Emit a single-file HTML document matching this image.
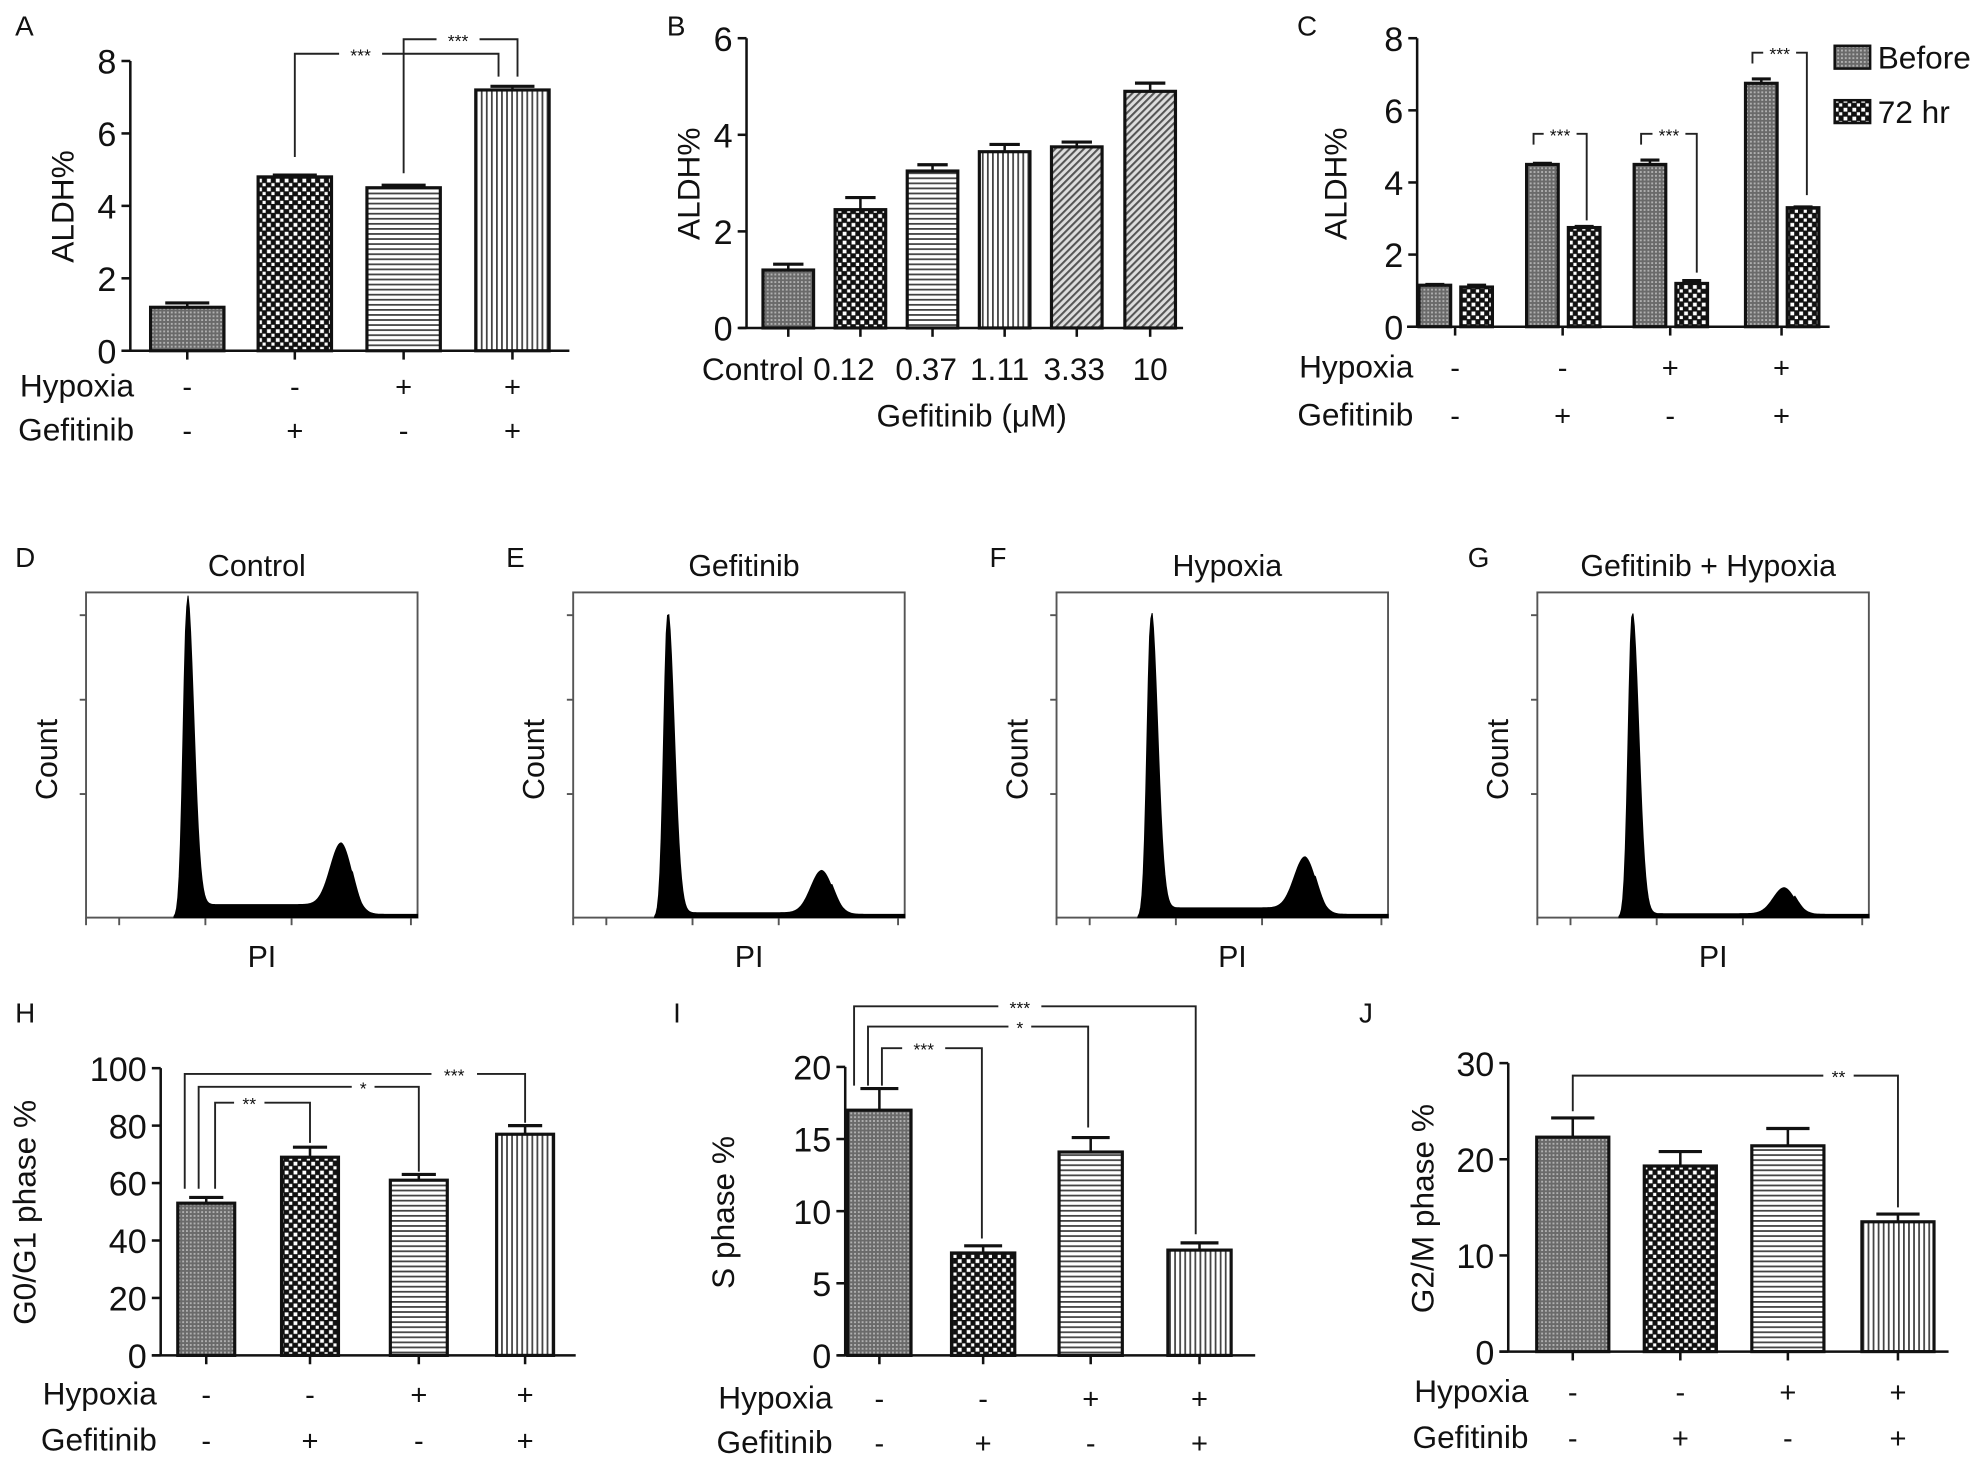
<!DOCTYPE html>
<html><head><meta charset="utf-8"><style>
html,body{margin:0;padding:0;background:#fff}
svg{display:block}
text{font-family:"Liberation Sans",Arial,sans-serif;fill:#111}
</style></head><body>
<svg id="fig" width="1984" height="1467" viewBox="0 0 1568 1159" xmlns="http://www.w3.org/2000/svg">
<defs>
<pattern id="p-gray" width="3" height="3" patternUnits="userSpaceOnUse"><rect width="3" height="3" fill="#6a6a6a"/><rect width="1.5" height="1.5" fill="#b0b0b0"/></pattern>
<pattern id="p-check" width="7" height="7" patternUnits="userSpaceOnUse"><rect width="7" height="7" fill="#111"/><rect x="1" y="1" width="3" height="3" fill="#fff"/><rect x="4.5" y="4.5" width="2.5" height="2.5" fill="#fff"/></pattern>
<pattern id="p-h" width="4" height="4" patternUnits="userSpaceOnUse"><rect width="4" height="4" fill="#fff"/><rect width="4" height="1.4" fill="#444"/></pattern>
<pattern id="p-v" width="4" height="4" patternUnits="userSpaceOnUse"><rect width="4" height="4" fill="#fff"/><rect width="1.4" height="4" fill="#444"/></pattern>
<pattern id="p-d" width="4" height="4" patternUnits="userSpaceOnUse" patternTransform="rotate(45)"><rect width="4" height="4" fill="#ddd"/><rect width="1.6" height="4" fill="#555"/></pattern>
</defs>
<g id="root"></g>
</svg>
<script>
// ---- data ----
const aCats = ["1","2","3","4"];
const aVals = [1.2, 4.8, 4.5, 7.2];
const aErr = [0.12, 0.05, 0.07, 0.1];
const aTicks = [0,2,4,6,8];
const hypoxiaRow = ["-","-","+","+"];
const gefitinibRow = ["-","+","-","+"];

const bCats = ["Control","0.12","0.37","1.11","3.33","10"];
const bVals = [1.2, 2.45, 3.25, 3.65, 3.75, 4.9];
const bErr = [0.12, 0.25, 0.13, 0.15, 0.1, 0.17];
const bTicks = [0,2,4,6];

const cBefore = [1.15, 4.5, 4.5, 6.75];
const cBeforeErr = [0.02, 0.03, 0.12, 0.12];
const c72 = [1.1, 2.75, 1.2, 3.3];
const c72Err = [0.05, 0.03, 0.08, 0.02];
const cTicks = [0,2,4,6,8];

const hVals = [53, 69, 61, 77];
const hErr = [2, 3.5, 2, 3];
const hTicks = [0,20,40,60,80,100];

const iVals = [17, 7.1, 14.1, 7.3];
const iErr = [1.5, 0.5, 1.0, 0.5];
const iTicks = [0,5,10,15,20];

const jVals = [22.3, 19.3, 21.4, 13.5];
const jErr = [2.0, 1.5, 1.8, 0.8];
const jTicks = [0,10,20,30];

// histogram shape params: [G1 peak pos, G1 height, G2 peak pos, G2 height, S baseline]
const histTitles = ["Control","Gefitinib","Hypoxia","Gefitinib + Hypoxia"];
const histG1Pos = [0.305, 0.285, 0.285, 0.286];
const histG1Height = [0.96, 0.93, 0.92, 0.93];
const histG2Pos = [0.77, 0.75, 0.75, 0.745];
const histG2Height = [0.19, 0.13, 0.157, 0.08];
const histBaseline = [0.04, 0.015, 0.03, 0.012];

const NS="http://www.w3.org/2000/svg";
const root=document.getElementById('root');
function el(tag, attrs, parent){const e=document.createElementNS(NS,tag);for(const k in attrs)e.setAttribute(k,attrs[k]);(parent||root).appendChild(e);return e;}
function txt(x,y,s,size,anchor,parent,rot){const t=el('text',{x:x,y:y,'font-size':size,'text-anchor':anchor||'middle'},parent);if(rot)t.setAttribute('transform','rotate(-90 '+x+' '+y+')');t.textContent=s;return t;}

function letter(s,x,y){const t=txt(x,y,s,22,'start');

}

function barChart(o){
  const g=el('g',{});
  
  
  const y=v=>o.y0-(v/o.max)*(o.y0-o.yTop);
  (o.brackets||[]).forEach(b=>{
    const yl=y(b.y), xl=b.x1, xr=b.x2;
    const p=el('path',{d:`M${xl} ${y(b.l)} V${yl} H${xr} V${y(b.r)}`,fill:'none',stroke:'#222','stroke-width':1.5},g);
    
    
    const sx=b.sx||(xl+xr)/2;
    el('rect',{x:sx-b.gap/2,y:yl-3,width:b.gap,height:6,fill:'#fff'},g);
    const t=txt(sx,yl+6,b.s,14,'middle',g);t.setAttribute('fill','#555');
    
    
  });
  const ax=el('line',{x1:o.ax,y1:o.y0,x2:o.ax,y2:o.yTop,stroke:'#111','stroke-width':2},g);
  
  
  o.ticks.forEach(t=>{
    el('line',{x1:o.ax-7,x2:o.ax,y1:y(t),y2:y(t),stroke:'#111','stroke-width':2},g);
    const l=txt(o.ax-11,y(t)+10,String(t),27,'end',g);
    
    
  });
  const xa=el('line',{x1:o.xa0,x2:o.xa1,y1:o.y0,y2:o.y0,stroke:'#111','stroke-width':2},g);
  
  
  o.centers.forEach(c=>el('line',{x1:c,x2:c,y1:o.y0,y2:o.y0+7,stroke:'#111','stroke-width':2},g));
  o.series.forEach(s=>{
    s.vals.forEach((v,i)=>{
      const cx=o.centers[i]+(s.off||0);
      const w=o.bw;
      const top=y(v+s.err[i]);
      el('line',{x1:cx,x2:cx,y1:y(v),y2:top,stroke:'#111','stroke-width':2},g);
      el('line',{x1:cx-w*0.3,x2:cx+w*0.3,y1:top,y2:top,stroke:'#111','stroke-width':2.5},g);
      const r=el('rect',{x:cx-w/2,y:y(v),width:w,height:o.y0-y(v),fill:'url(#'+(s.pats?s.pats[i]:s.pat)+')',stroke:'#111','stroke-width':2.5},g);
      
      
    });
  });
  if(o.rows){
    o.rows.forEach((row,ri)=>{
      const ry=o.rowY[ri];
      const lab=txt(o.rowLabelX,ry,row.label,25,'end',g);
      
      
      row.vals.forEach((v,i)=>txt(o.centers[i],ry,v,23,'middle',g));
    });
  }
  if(o.cats){o.cats.forEach((c,i)=>{const t=txt(o.catX[i],o.catY,c,25,'middle',g);
    
    });}
  const yt=txt(o.ytx,o.yty,o.ytitle,25,'middle',g,true);
  
  
  return g;
}
const P4=['p-gray','p-check','p-h','p-v'];

// A
letter('A',12,28);
barChart({name:'panel-a-chart',ax:103,y0:277,yTop:48,max:8,ticks:aTicks,xa0:96,xa1:450,centers:[148,233,319,405],bw:58,
 series:[{vals:aVals,err:aErr,pats:P4,key:'a-'}],
 brackets:[{x1:233,x2:394,y:8.2,l:5.35,r:7.57,s:'***',gap:34,sx:285},{x1:319,x2:409,y:8.6,l:4.9,r:7.57,s:'***',gap:34,sx:362}],
 rows:[{label:'Hypoxia',vals:hypoxiaRow},{label:'Gefitinib',vals:gefitinibRow}],rowY:[313,348],rowLabelX:106,
 ytitle:'ALDH%',ytx:58,yty:163});
// B
letter('B',527,28);
barChart({name:'panel-b-chart',ax:590,y0:259,yTop:30,max:6,ticks:bTicks,xa0:584,xa1:935,centers:[623,680,737,794,851,909],bw:40,
 series:[{vals:bVals,err:bErr,pats:['p-gray','p-check','p-h','p-v','p-d','p-d'],key:'b-'}],
 cats:bCats,catX:[595,667,732,790,849,909],catY:300,ytitle:'ALDH%',ytx:553,yty:145});
txt(768,337,'Gefitinib (\u03bcM)',25);
// C
letter('C',1025,28);
barChart({name:'panel-c-chart',ax:1120,y0:258,yTop:30,max:8,ticks:cTicks,xa0:1112,xa1:1446,centers:[1150,1235,1320,1408],bw:25,
 series:[{vals:cBefore,err:cBeforeErr,pat:'p-gray',off:-16,key:'before-'},{vals:c72,err:c72Err,pat:'p-check',off:17,key:'72hr-'}],
 brackets:[{x1:1212,x2:1254,y:5.35,l:5.05,r:2.95,s:'***',gap:26},{x1:1297,x2:1341,y:5.35,l:5.05,r:1.5,s:'***',gap:26},{x1:1385,x2:1428,y:7.6,l:7.3,r:3.65,s:'***',gap:26}],
 rows:[{label:'Hypoxia',vals:hypoxiaRow},{label:'Gefitinib',vals:gefitinibRow}],rowY:[298,336],rowLabelX:1117,
 ytitle:'ALDH%',ytx:1064,yty:145});
// legend
[['Before','p-gray',45],['72 hr','p-check',88]].forEach(l=>{
 const g=el('g',{});
 
 
 el('rect',{x:1450,y:l[2]-9,width:28,height:18,fill:'url(#'+l[1]+')',stroke:'#111','stroke-width':2},g);
 txt(1484,l[2]+9,l[0],25,'start',g);
});

// histograms
const hx=[68,453,835,1215], letters=['D','E','F','G'], ltx=[12,400,782,1160];
histTitles.forEach((t,k)=>{
 const x0=hx[k],x1=x0+262,y0=725,yT=468;
 letter(letters[k],ltx[k],448);
 const g=el('g',{});
 
 
 txt(x0+135,455,t,24,'middle',g);
 el('rect',{x:x0,y:yT,width:262,height:257,fill:'none',stroke:'#555','stroke-width':1.5},g);
 [0.07,0.33,0.62].forEach(f=>el('line',{x1:x0-5,x2:x0,y1:yT+257*f,y2:yT+257*f,stroke:'#555','stroke-width':1.5},g));
 [0,0.1,0.36,0.62,0.98].forEach(f=>el('line',{x1:x0+262*f,x2:x0+262*f,y1:y0,y2:y0+6,stroke:'#555','stroke-width':1.5},g));
 const p1=histG1Pos[k],h1=histG1Height[k],p2=histG2Pos[k],h2=histG2Height[k],b=histBaseline[k];
 let d=`M${x0+262*(p1-0.04)} ${y0}`;
 for(let i=0;i<=260;i++){
  const f=i/260; if(f<p1-0.04) continue;
  const s1=f<p1?0.012:0.02;
  let v=h1*Math.exp(-Math.pow((f-p1)/s1,2)/2);
  v+=h2*Math.exp(-Math.pow((f-p2)/0.033,2)/2);
  if(f>p1&&f<p2+0.06) v+=b*(f<p2?1:Math.max(0,1-(f-p2)/0.06));
  if(f>p2+0.03) v+=0.01;
  d+=` L${x0+262*f} ${y0-257*Math.min(v,0.99)}`;
 }
 d+=` L${x1} ${y0} Z`;
 const hp=el('path',{d:d,fill:'#000',stroke:'#000','stroke-width':0.8},g);
 
 
 txt(x0-23,600,'Count',24,'middle',g,true);
 txt(x0+139,764,'PI',24,'middle',g);
});

// H
letter('H',12,808);
barChart({name:'panel-h-chart',ax:127,y0:1071,yTop:844,max:100,ticks:hTicks,xa0:120,xa1:455,centers:[163,245,331,415],bw:45,
 series:[{vals:hVals,err:hErr,pats:P4,key:'h-'}],
 brackets:[{x1:146,x2:415,y:98,l:58,r:81,s:'***',gap:36,sx:359},{x1:157,x2:331,y:93.5,l:58,r:64,s:'*',gap:18,sx:287},{x1:170,x2:245,y:88,l:58,r:74,s:'**',gap:24,sx:197}],
 rows:[{label:'Hypoxia',vals:hypoxiaRow},{label:'Gefitinib',vals:gefitinibRow}],rowY:[1110,1146],rowLabelX:124,
 ytitle:'G0/G1 phase %',ytx:28,yty:958});
// I
letter('I',532,808);
barChart({name:'panel-i-chart',ax:668,y0:1071,yTop:843,max:20,ticks:iTicks,xa0:662,xa1:992,centers:[695,777,862,948],bw:50,
 series:[{vals:iVals,err:iErr,pats:P4,key:'i-'}],
 brackets:[{x1:675,x2:945,y:24.2,l:18.7,r:8.4,s:'***',gap:34,sx:806},{x1:686,x2:860,y:22.8,l:18.7,r:15.8,s:'*',gap:18,sx:806},{x1:697,x2:776,y:21.3,l:18.7,r:8.1,s:'***',gap:34,sx:730}],
 rows:[{label:'Hypoxia',vals:hypoxiaRow},{label:'Gefitinib',vals:gefitinibRow}],rowY:[1113,1148],rowLabelX:658,
 ytitle:'S phase %',ytx:580,yty:958});
// J
letter('J',1074,808);
barChart({name:'panel-j-chart',ax:1192,y0:1068,yTop:840,max:30,ticks:jTicks,xa0:1185,xa1:1540,centers:[1243,1328,1413,1500],bw:57,
 series:[{vals:jVals,err:jErr,pats:P4,key:'j-'}],
 brackets:[{x1:1243,x2:1500,y:28.7,l:25,r:15,s:'**',gap:24,sx:1453}],
 rows:[{label:'Hypoxia',vals:hypoxiaRow},{label:'Gefitinib',vals:gefitinibRow}],rowY:[1108,1144],rowLabelX:1208,
 ytitle:'G2/M phase %',ytx:1133,yty:955});
</script>
</body></html>
